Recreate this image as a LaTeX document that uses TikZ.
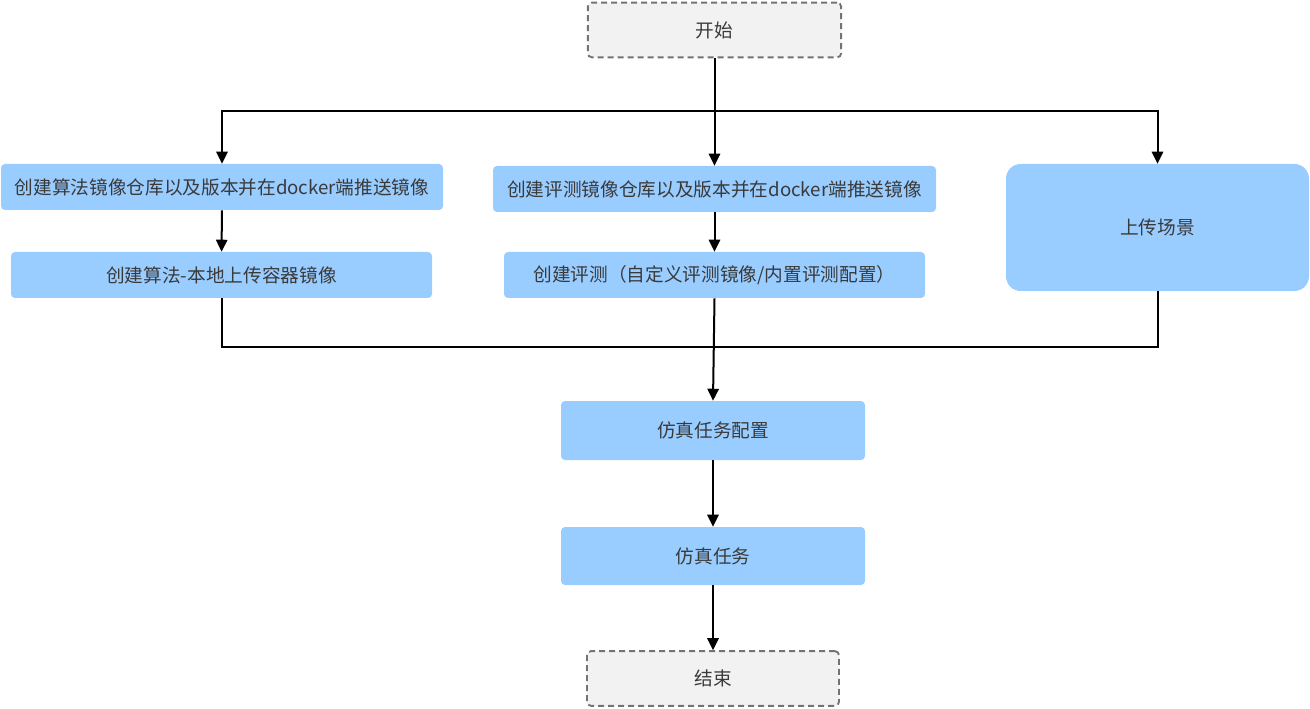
\documentclass[tikz,border=0pt]{standalone}
\usepackage{fontspec}
\setmainfont{Noto Sans CJK SC}
\usetikzlibrary{arrows.meta}
\definecolor{boxblue}{HTML}{99CCFF}
\definecolor{termgray}{HTML}{F2F2F2}
\definecolor{txtgray}{HTML}{3A3A3A}
\tikzset{
  proc/.style={fill=boxblue,rounded corners=3pt,inner sep=0pt,text=txtgray},
  term/.style={draw=black!55,fill=termgray,dash pattern=on 4.5pt off 3pt,line width=1.4pt,
    rounded corners=3pt,inner sep=0pt,text=txtgray,minimum height=41pt},
  arr/.style={-{Triangle[length=9pt,width=8.5pt]},line width=1.5pt},
  wire/.style={line width=1.5pt}
}
\begin{document}
\begin{tikzpicture}[x=0.75pt,y=-0.75pt,font=\fontsize{14}{16}\selectfont]
\useasboundingbox (0,0) rectangle (1310,709);
%
\node[term,minimum width=190pt](start)at(714.5,30){开始};
\node[proc,minimum width=331.5pt,minimum height=34.5pt](algorepo)at(222,187){创建算法镜像仓库以及版本并在docker端推送镜像};
\node[proc,minimum width=315.75pt,minimum height=34.5pt](algo)at(221.5,275){创建算法-本地上传容器镜像};
\node[proc,minimum width=332.25pt,minimum height=34.5pt](evalrepo)at(714.5,189){创建评测镜像仓库以及版本并在docker端推送镜像};
\node[proc,minimum width=315.75pt,minimum height=34.5pt](eval)at(714.5,275){创建评测（自定义评测镜像/内置评测配置）};
\node[proc,rounded corners=11pt,minimum width=227.25pt,minimum height=95.25pt](scene)at(1157.5,227.5){上传场景};
\node[proc,minimum width=228pt,minimum height=44.25pt](config)at(713,430.5){仿真任务配置};
\node[proc,minimum width=228pt,minimum height=43.5pt](task)at(713,556){仿真任务};
\node[term,minimum width=189pt](stop)at(713,678.5){结束};
%
\coordinate(split)at(714.5,111);
\coordinate(merge)at(714.5,347);
%
\draw[arr](start.south)--(split)-|(algorepo.north);
\draw[arr](split)--(evalrepo.north);
\draw[arr](split)-|(scene.north);
\draw[arr](algorepo)--(algo);
\draw[arr](evalrepo)--(eval);
\draw[wire](algo.south)|-(merge)-|(scene.south);
\draw[arr](eval.south)--(config.north);
\draw[arr](config)--(task);
\draw[arr](task)--(stop);
\end{tikzpicture}
\end{document}
